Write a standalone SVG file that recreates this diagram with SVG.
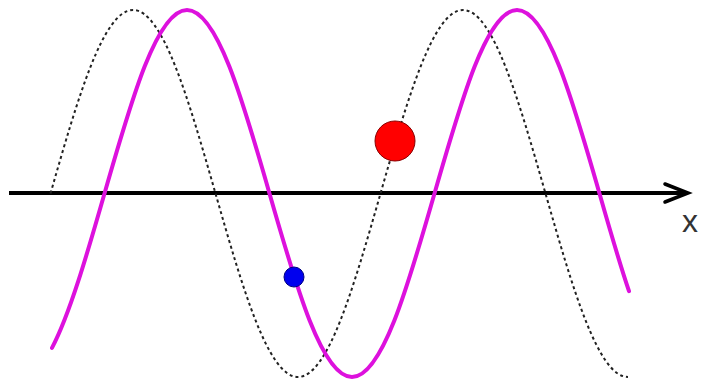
<svg xmlns="http://www.w3.org/2000/svg" width="701" height="382" viewBox="0 0 701 382">
<style>
.axis{stroke:#000;stroke-width:4;fill:none}
.arrow{stroke:#000;stroke-width:3.5;fill:none;stroke-linecap:round;stroke-linejoin:miter}
.ref{stroke:#222;stroke-width:2;fill:none;stroke-dasharray:3 3}
.wave{stroke:#dd11dd;stroke-width:4;fill:none;stroke-linecap:round}
.lbl{font-family:"Liberation Sans",Arial,sans-serif;font-size:32px;fill:#333}
</style>
<rect width="701" height="382" fill="#fff"/>
<g id="connectors">
<g id="axis">
<line class="axis" x1="9" y1="193" x2="686" y2="193"/>
<polyline class="arrow" points="665,184 688,193 665,202"/>
</g>
<path id="dashed-wave" class="ref" d="M50.5,193.5 C77.4,99.5 103.1,10 133,10 C162.9,10 188.6,99.5 215.5,193.5 C242.4,287.5 268.1,377 298,377 C327.9,377 353.6,287.5 380.5,193.5 C407.4,99.5 433.1,10 463,10 C492.9,10 518.6,99.5 545.5,193.5 C572.4,287.5 598.1,377 628,377"/>
<path id="magenta-wave" class="wave" d="M52,347.9 C69.5,314.8 87,254.6 104.5,193.5 C131.4,99.5 157.1,10 187,10 C216.9,10 242.6,99.5 269.5,193.5 C296.4,287.5 322.1,377 352,377 C381.9,377 407.6,287.5 434.5,193.5 C461.4,99.5 487.1,10 517,10 C546.9,10 572.6,99.5 599.5,193.5 C609.3,227.9 619.2,262.1 629,291.2"/>
</g>
<g id="red-ball"><circle cx="395" cy="141" r="20" fill="#ff0000" stroke="#880000" stroke-width="1"/></g>
<g id="blue-ball"><circle cx="294" cy="277" r="10" fill="#0000ee" stroke="#000080" stroke-width="1"/></g>
<g id="x-label"><text class="lbl" x="682" y="232">x</text></g>
</svg>
